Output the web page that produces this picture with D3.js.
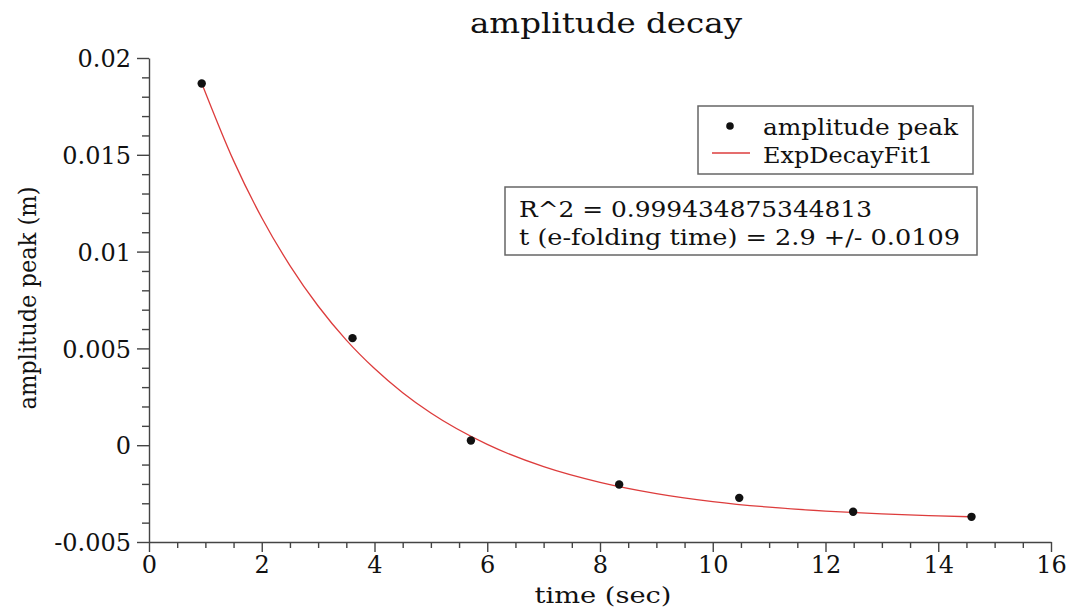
<!DOCTYPE html>
<html>
<head>
<meta charset="utf-8">
<script src="https://cdn.jsdelivr.net/npm/d3@7"></script>
<style>
  body { margin: 0; background: #fff; }
  text { font-family: "DejaVu Serif", serif; fill: #111; }
</style>
</head>
<body>
<svg id="chart" width="1072" height="613"></svg>
<script>
// measured peaks
var peakTime = [0.935, 3.61, 5.71, 8.34, 10.47, 12.49, 14.59];
var peakAmp = [0.01868, 0.00553, 0.00024, -0.00203, -0.00272, -0.00344, -0.00370];

// fitted curve
var fitTime = [0.93, 1.5, 2, 2.5, 3, 3.5, 4, 4.5, 5, 6, 7, 8, 9, 10, 11, 12, 13, 14, 14.6];
var fitAmp = [0.01874, 0.0147, 0.01175, 0.00928, 0.00719, 0.00543, 0.00396, 0.00271, 0.00166,
  0.00004, -0.00111, -0.00192, -0.0025, -0.00291, -0.0032, -0.0034, -0.00355, -0.00365, -0.0037];

var xTicks = [0, 2, 4, 6, 8, 10, 12, 14, 16];
var yTicks = [-0.005, 0, 0.005, 0.01, 0.015, 0.02];
var yTickLabels = ["-0.005", "0", "0.005", "0.01", "0.015", "0.02"];
var legendLabels = ["amplitude peak", "ExpDecayFit1"];
var statsLines = ["R^2 = 0.999434875344813", "t (e-folding time) = 2.9 +/- 0.0109"];

var svg = d3.select("#chart");

var x = d3.scaleLinear().domain([0, 16]).range([149, 1051]);
var y = d3.scaleLinear().domain([-0.005, 0.02]).range([542, 58]);

var xMinor = d3.range(0, 16.01, 0.5).filter(function(v) { return v % 2 != 0; });
var yMinor = d3.range(-5, 21, 1).map(function(v) { return v / 1000; })
  .filter(function(v) { return Math.abs(v * 1000) % 5 != 0; });

// minor ticks first
svg.append("g")
  .attr("transform", "translate(0," + y(-0.005) + ")")
  .call(d3.axisBottom(x).tickValues(xMinor).tickSize(6).tickFormat(""))
  .call(function(g) { g.select(".domain").remove(); });

svg.append("g")
  .attr("transform", "translate(" + x(0) + ",0)")
  .call(d3.axisLeft(y).tickValues(yMinor).tickSize(7).tickFormat(""))
  .call(function(g) { g.select(".domain").remove(); });

var xAxis = svg.append("g")
  .attr("transform", "translate(0," + y(-0.005) + ")")
  .call(d3.axisBottom(x).tickValues(xTicks).tickSize(10).tickSizeOuter(0).tickPadding(3));

var yAxis = svg.append("g")
  .attr("transform", "translate(" + x(0) + ",0)")
  .call(d3.axisLeft(y).tickValues(yTicks).tickSize(12).tickSizeOuter(0).tickPadding(6)
    .tickFormat(function(d, i) { return yTickLabels[i]; }));

svg.selectAll(".tick text")
  .style("font-family", "DejaVu Serif")
  .style("font-size", "24px")
  .attr("fill", "#111");
xAxis.selectAll(".tick text").attr("dy", "0.75em");
yAxis.selectAll(".tick text").attr("dy", "0.36em");
svg.selectAll(".domain, .tick line").attr("stroke", "#444").attr("stroke-width", 1.4);

// fit curve
var line = d3.line()
  .x(function(d, i) { return x(fitTime[i]); })
  .y(function(d) { return y(d); })
  .curve(d3.curveMonotoneX);

svg.append("path")
  .datum(fitAmp)
  .attr("d", line)
  .attr("fill", "none")
  .attr("stroke", "#dd3c3c")
  .attr("stroke-width", 1.3);

// data points
svg.append("g")
  .selectAll("circle")
  .data(peakAmp)
  .enter()
  .append("circle")
  .attr("cx", function(d, i) { return x(peakTime[i]); })
  .attr("cy", function(d) { return y(d); })
  .attr("r", 4.2)
  .attr("fill", "#111");

// title and axis labels
svg.append("text")
  .attr("x", 606).attr("y", 33)
  .attr("text-anchor", "middle")
  .attr("textLength", 272).attr("lengthAdjust", "spacingAndGlyphs")
  .style("font-size", "27px")
  .text("amplitude decay");

svg.append("text")
  .attr("x", 603).attr("y", 603)
  .attr("text-anchor", "middle")
  .attr("textLength", 137).attr("lengthAdjust", "spacingAndGlyphs")
  .style("font-size", "22px")
  .text("time (sec)");

svg.append("text")
  .attr("transform", "translate(36,298) rotate(-90)")
  .attr("text-anchor", "middle")
  .attr("textLength", 223).attr("lengthAdjust", "spacingAndGlyphs")
  .style("font-size", "24px")
  .text("amplitude peak (m)");

// legend
var legend = svg.append("g");
legend.append("rect")
  .attr("x", 698).attr("y", 106).attr("width", 275).attr("height", 68)
  .attr("fill", "#fff").attr("stroke", "#666").attr("stroke-width", 1.5);
legend.append("circle")
  .attr("cx", 730).attr("cy", 126).attr("r", 3.8).attr("fill", "#111");
legend.append("line")
  .attr("x1", 712).attr("x2", 750).attr("y1", 153).attr("y2", 153)
  .attr("stroke", "#dd3c3c").attr("stroke-width", 1.3);
legend.selectAll("text.lbl")
  .data(legendLabels)
  .enter()
  .append("text")
  .attr("class", "lbl")
  .attr("x", 763)
  .attr("y", function(d, i) { return 135 + i * 28; })
  .attr("textLength", function(d, i) { return i == 0 ? 195 : 170; })
  .attr("lengthAdjust", "spacingAndGlyphs")
  .style("font-size", "23px")
  .text(function(d) { return d; });

// fit statistics box
var stats = svg.append("g");
stats.append("rect")
  .attr("x", 505).attr("y", 187).attr("width", 472).attr("height", 68)
  .attr("fill", "#fff").attr("stroke", "#666").attr("stroke-width", 1.5);
stats.selectAll("text")
  .data(statsLines)
  .enter()
  .append("text")
  .attr("x", 519)
  .attr("y", function(d, i) { return 217 + i * 28; })
  .attr("textLength", function(d, i) { return i == 0 ? 353 : 441; })
  .attr("lengthAdjust", "spacingAndGlyphs")
  .style("font-size", "23px")
  .text(function(d) { return d; });
</script>
</body>
</html>
